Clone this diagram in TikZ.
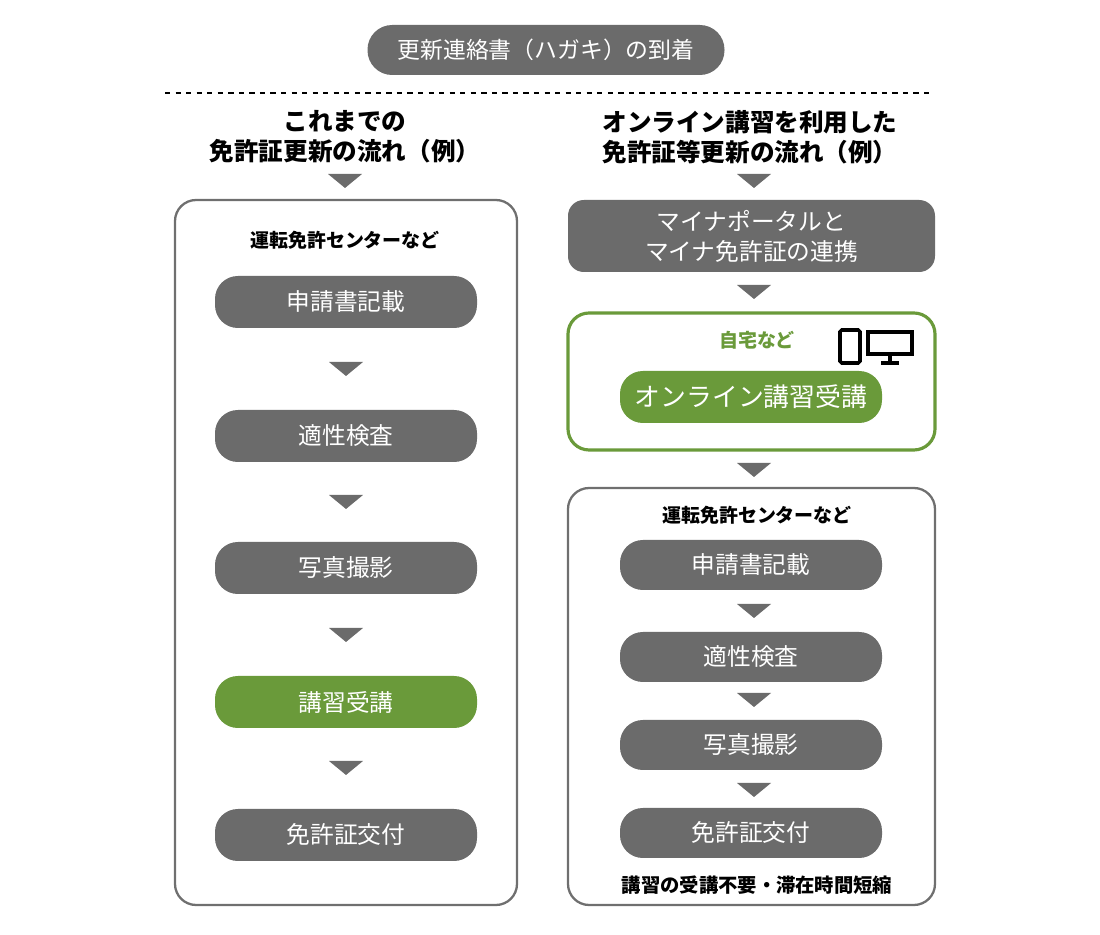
\documentclass[tikz,border=0pt]{standalone}
\usepackage{fontspec}
\setmainfont{Noto Sans CJK JP}
\usetikzlibrary{positioning,calc}
\definecolor{pillgray}{HTML}{6B6B6B}
\definecolor{boxgray}{HTML}{6F6F6F}
\definecolor{mygreen}{HTML}{6A9A3A}
\tikzset{
pill/.style={fill=pillgray,text=white,rounded corners=13pt,minimum width=262*0.02cm,minimum height=52*0.02cm,font={\fontsize{13.5pt}{15pt}\selectfont}},
gpill/.style={pill,fill=mygreen},
frame/.style={draw=boxgray,line width=1.3pt,rounded corners=12pt},
head/.style={font={\fontsize{14pt}{17pt}\selectfont\bfseries},align=center},
place/.style={font={\fontsize{10.8pt}{12pt}\selectfont\bfseries}},
tri/.style={fill=pillgray,draw=none}
}
\newcommand{\arrowtri}[2]{\fill[pillgray] (#1-17,#2-7) -- (#1+17,#2-7) -- (#1,#2+7) -- cycle;}
\begin{document}
\begin{tikzpicture}[x=0.02cm,y=-0.02cm]
\useasboundingbox (0,0) rectangle (1100,935);
% top
\node[pill,minimum width=357*0.02cm,minimum height=50*0.02cm,rounded corners=14pt,font={\fontsize{13pt}{15pt}\selectfont}] (arrive) at (546,50) {更新連絡書（ハガキ）の到着};
\draw[dashed,line width=1pt] (165,93) -- (930,93);
% left column
\node[head] (lhead) at (345,137) {これまでの\\免許証更新の流れ（例）};
\arrowtri{345}{181}
\draw[frame] (175,200) rectangle (517,905);
\node[place] (lplace) at (345,240) {運転免許センターなど};
\node[pill] (l1) at (346,302) {申請書記載};
\node[pill] (l2) at (346,436) {適性検査};
\node[pill] (l3) at (346,568) {写真撮影};
\node[gpill] (l4) at (346,702) {講習受講};
\node[pill] (l5) at (346,835) {免許証交付};
\foreach \y in {369,502,635,768} {\arrowtri{346}{\y}}
% right column
\node[head] (rhead) at (750,137) {オンライン講習を利用した\\免許証等更新の流れ（例）};
\arrowtri{754}{181}
\node[pill,minimum width=367*0.02cm,minimum height=72*0.02cm,rounded corners=9pt,align=center,font={\fontsize{13.5pt}{17pt}\selectfont}] (myna) at (751.5,236) {マイナポータルと\\マイナ免許証の連携};
\arrowtri{754}{292}
\draw[frame,draw=mygreen,line width=1.8pt] (568,313) rectangle (935,450);
\node[place,text=mygreen] (home) at (757,340) {自宅など};
% device icons
\draw[line width=2pt,rounded corners=1pt] (840,330) rectangle (860,363);
\draw[line width=2pt] (868,332) rectangle (912,354);
\draw[line width=2pt] (890,354) -- (890,362) (881,363) -- (899,363);
\node[gpill,font={\fontsize{14.7pt}{16pt}\selectfont}] (online) at (751,397) {オンライン講習受講};
\arrowtri{754}{470}
\draw[frame] (568,488) rectangle (935,905);
\node[place] (rplace) at (757,515) {運転免許センターなど};
\node[pill,minimum height=50*0.02cm] (r1) at (751,565) {申請書記載};
\node[pill,minimum height=50*0.02cm] (r2) at (751,657) {適性検査};
\node[pill,minimum height=50*0.02cm] (r3) at (751,745) {写真撮影};
\node[pill,minimum height=50*0.02cm] (r4) at (751,833) {免許証交付};
\foreach \y in {611,700,790} {\arrowtri{754}{\y}}
\node[place,font={\fontsize{11pt}{12pt}\selectfont\bfseries}] (note) at (757,885) {講習の受講不要・滞在時間短縮};
\end{tikzpicture}
\end{document}
